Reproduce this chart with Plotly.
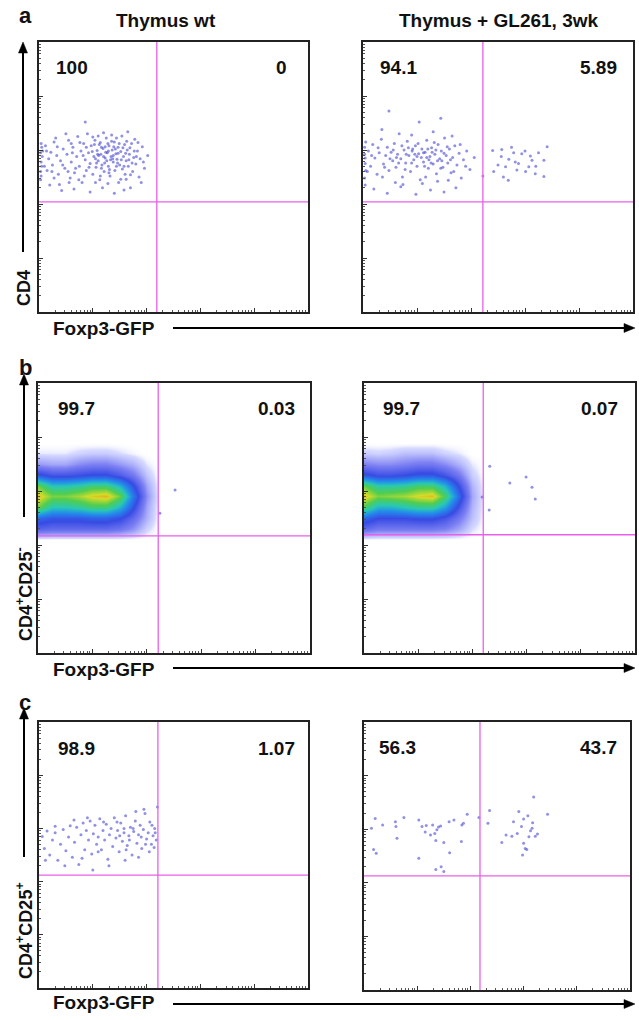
import math
import plotly.graph_objects as go

W, H = 639, 1020

# ---------------- text content ----------------
col_titles = ["Thymus wt", "Thymus + GL261, 3wk"]
row_letters = ["a", "b", "c"]
row_ylabels = ["CD4", "CD4<sup>+</sup>CD25<sup>-</sup>", "CD4<sup>+</sup>CD25<sup>+</sup>"]
x_label = "Foxp3-GFP"

# panel order: a_wt, a_gl, b_wt, b_gl, c_wt, c_gl
pct_upper_left = ["100", "94.1", "99.7", "99.7", "98.9", "56.3"]
pct_upper_right = ["0", "5.89", "0.03", "0.07", "1.07", "43.7"]

# quadrant gates (decades)
gate_x = [2.19, 2.22, 2.21, 2.20, 2.21, 2.18]
gate_y = [2.04, 2.04, 2.17, 2.19, 2.12, 2.13]

# ---------------- events (decade units: Foxp3-GFP, y-marker) ----------------
a_wt_cells = [
    (0.03, 2.95), (0.04, 2.78), (0.05, 3.05), (0.03, 2.60), (0.06, 2.88), (0.04, 3.12), (0.05, 2.70), (0.03, 2.45), (0.07, 2.98), (0.04, 2.52),
    (0.12, 3.08), (0.18, 2.84), (0.22, 2.96), (0.15, 2.62), (0.28, 3.15), (0.25, 2.72), (0.33, 2.90), (0.36, 2.55), (0.31, 3.22), (0.40, 2.80),
    (0.45, 3.02), (0.48, 2.66), (0.52, 2.92), (0.55, 3.18), (0.58, 2.48), (0.60, 2.78), (0.63, 3.05), (0.66, 2.58), (0.70, 2.88), (0.72, 3.25),
    (0.75, 2.70), (0.78, 2.98), (0.80, 2.40), (0.83, 3.12), (0.86, 2.82), (0.88, 2.62), (0.90, 3.30), (0.92, 2.95), (0.95, 2.75), (0.97, 3.08),
    (1.00, 2.55), (1.02, 2.88), (1.04, 3.18), (1.06, 2.68), (1.08, 2.99), (1.10, 2.80), (1.12, 3.10), (1.13, 2.45), (1.15, 2.92), (1.17, 2.72),
    (1.19, 3.03), (1.21, 2.60), (1.23, 2.85), (1.25, 3.22), (1.27, 2.95), (1.29, 2.70), (1.30, 3.08), (1.32, 2.52), (1.34, 2.88), (1.36, 3.00),
    (1.38, 2.78), (1.40, 3.15), (1.41, 2.62), (1.43, 2.93), (1.45, 2.83), (1.47, 3.05), (1.48, 2.40), (1.50, 2.72), (1.52, 2.97), (1.54, 3.26),
    (1.55, 2.65), (1.57, 2.88), (1.59, 3.10), (1.60, 2.55), (1.62, 2.80), (1.64, 3.00), (1.66, 2.70), (1.68, 2.92), (1.70, 2.30), (1.72, 3.12),
    (1.74, 2.60), (1.76, 2.86), (1.78, 3.20), (1.80, 2.74), (1.83, 2.98), (1.86, 2.50), (1.88, 2.84), (1.92, 3.06), (1.96, 2.66), (2.02, 2.90),
    (0.20, 2.35), (0.42, 2.25), (0.65, 2.28), (0.95, 2.22), (1.18, 2.30), (1.40, 2.20), (1.58, 2.26), (1.20, 3.32), (0.50, 3.30), (1.65, 3.34),
    (0.86, 3.52), (1.05, 2.40), (1.28, 2.38), (0.74, 2.45), (1.52, 2.46), (1.10, 3.26), (1.35, 3.28), (0.60, 3.12), (0.28, 2.48), (1.90, 2.40),
    (1.11, 2.90), (1.24, 2.96), (1.33, 2.82), (1.42, 3.02), (1.05, 2.84), (1.28, 3.12), (1.46, 2.76), (1.16, 3.05), (1.38, 2.90), (1.22, 2.76),
    (0.82, 2.90), (0.88, 3.05), (0.93, 2.68), (0.99, 2.97), (1.03, 3.10), (1.07, 2.76), (1.09, 2.92), (1.14, 3.14), (1.16, 2.66), (1.20, 2.88),
    (1.23, 3.06), (1.26, 2.80), (1.29, 2.98), (1.31, 2.64), (1.35, 3.16), (1.37, 2.84), (1.39, 3.06), (1.44, 2.70), (1.47, 2.94), (1.49, 3.12),
    (1.53, 2.82), (1.56, 3.04), (1.58, 2.70), (1.61, 2.94), (1.63, 3.16), (1.67, 2.82), (1.69, 3.04), (1.73, 2.76), (1.77, 2.98), (1.81, 2.88),
    (0.10, 2.70), (0.14, 2.98), (0.24, 2.60), (0.34, 3.06), (0.44, 2.72), (0.54, 2.60), (0.62, 2.95), (0.68, 2.66), (0.76, 3.14), (0.84, 2.52),
    (1.00, 3.24), (1.14, 2.52), (1.30, 2.58), (1.44, 3.22), (1.62, 2.46), (1.84, 3.14), (1.94, 2.78), (1.70, 2.54), (0.56, 2.40), (0.38, 2.36),
]

a_gl_cells = [
    (0.03, 2.92), (0.04, 2.75), (0.03, 3.05), (0.05, 2.62), (0.04, 2.85), (0.03, 2.48), (0.05, 3.15), (0.04, 2.35),
    (0.10, 2.98), (0.14, 2.70), (0.18, 3.10), (0.22, 2.85), (0.26, 2.55), (0.30, 2.95), (0.34, 3.20), (0.38, 2.74),
    (0.42, 2.90), (0.45, 3.05), (0.48, 2.62), (0.52, 2.96), (0.55, 2.80), (0.58, 3.12), (0.61, 2.68), (0.64, 2.92),
    (0.67, 3.30), (0.70, 2.84), (0.73, 2.50), (0.76, 3.00), (0.79, 2.76), (0.82, 3.16), (0.85, 2.90), (0.88, 2.60),
    (0.91, 2.98), (0.94, 2.82), (0.97, 3.08), (1.00, 2.70), (1.03, 2.93), (1.06, 2.45), (1.09, 3.02), (1.12, 2.78),
    (1.15, 2.96), (1.18, 3.18), (1.21, 2.66), (1.24, 2.88), (1.27, 3.04), (1.30, 2.74), (1.33, 2.92), (1.36, 2.56),
    (1.39, 3.10), (1.42, 2.84), (1.45, 2.98), (1.48, 2.68), (1.51, 3.22), (1.54, 2.90), (1.57, 2.76), (1.60, 3.02),
    (1.63, 2.58), (1.66, 2.86), (1.70, 3.08), (1.74, 2.72), (1.78, 2.94), (1.82, 2.48), (1.86, 2.82), (1.92, 2.98),
    (1.98, 2.64), (2.06, 2.86), (0.20, 2.28), (0.45, 2.20), (0.70, 2.32), (0.98, 2.18), (1.25, 2.26), (1.50, 2.22),
    (1.72, 2.30), (0.60, 2.40), (1.10, 2.38), (1.38, 2.42), (0.48, 3.72), (1.44, 3.59), (1.04, 3.52), (0.90, 3.28),
    (1.30, 3.34), (0.35, 3.38), (1.65, 3.26), (1.00, 2.88), (1.12, 2.95), (1.22, 2.82), (1.35, 3.00), (0.80, 2.92),
    (0.62, 2.86), (1.46, 2.80), (0.92, 3.02), (1.28, 2.96), (1.18, 2.86),
    (0.40, 2.68), (0.50, 2.84), (0.56, 3.00), (0.66, 2.76), (0.72, 3.08), (0.78, 2.64), (0.84, 3.04), (0.90, 2.76),
    (0.96, 2.92), (1.02, 3.12), (1.08, 2.86), (1.14, 2.70), (1.20, 3.02), (1.26, 2.76), (1.32, 3.14), (1.38, 2.80),
    (1.44, 2.66), (1.50, 2.94), (1.56, 3.06), (1.62, 2.82), (0.08, 2.60), (0.16, 2.90), (0.28, 3.04), (0.36, 2.50),
    (1.68, 2.60), (1.80, 3.10), (1.90, 2.70), (0.74, 2.36), (1.16, 2.50), (1.58, 2.44),
    # Foxp3+ cluster
    (2.40, 2.99), (2.57, 3.01), (2.56, 2.88), (2.79, 2.95), (2.94, 2.93), (3.10, 2.89), (3.25, 2.95), (3.41, 3.06),
    (2.70, 2.83), (2.88, 2.75), (3.07, 2.69), (2.64, 2.69), (2.85, 2.63), (3.01, 2.60), (3.19, 2.56), (3.35, 2.51),
    (2.69, 2.44), (2.42, 2.60), (3.13, 2.81), (3.35, 2.81), (2.82, 2.78), (2.50, 2.72), (2.75, 3.05), (3.00, 2.98),
    (2.60, 2.50), (3.20, 2.70), (2.22, 2.52),
]

c_wt_cells = [
    (0.06, 2.85), (0.10, 2.62), (0.15, 2.95), (0.20, 2.50), (0.25, 2.78), (0.30, 2.92), (0.35, 2.40), (0.40, 2.70),
    (0.45, 2.98), (0.50, 2.58), (0.55, 2.84), (0.58, 3.05), (0.62, 2.46), (0.66, 2.74), (0.70, 3.02), (0.74, 2.32),
    (0.78, 2.88), (0.82, 3.10), (0.85, 2.60), (0.88, 2.96), (0.92, 2.78), (0.95, 3.14), (0.98, 2.52), (1.01, 2.90),
    (1.04, 3.06), (1.07, 2.70), (1.10, 2.84), (1.13, 3.18), (1.16, 2.60), (1.19, 2.96), (1.22, 2.78), (1.25, 3.08),
    (1.28, 2.42), (1.31, 2.88), (1.34, 3.00), (1.37, 2.66), (1.40, 3.20), (1.43, 2.82), (1.46, 2.96), (1.49, 2.56),
    (1.52, 3.10), (1.55, 2.76), (1.58, 2.92), (1.61, 3.24), (1.64, 2.68), (1.67, 2.86), (1.70, 3.02), (1.73, 2.50),
    (1.76, 2.94), (1.79, 3.14), (1.82, 2.72), (1.85, 2.88), (1.88, 3.06), (1.91, 2.62), (1.94, 2.98), (1.97, 3.28),
    (2.00, 2.80), (2.03, 2.92), (2.06, 3.12), (2.09, 2.70), (2.12, 2.86), (2.15, 3.00), (2.18, 2.78), (2.20, 3.40),
    (1.95, 3.36), (1.80, 3.32), (1.60, 2.40), (1.30, 2.30), (1.00, 2.22), (1.85, 2.46), (2.05, 2.56), (1.50, 2.86),
    (1.68, 2.78), (1.90, 2.84), (2.10, 3.06), (1.75, 3.00), (1.58, 3.00), (1.98, 2.70), (2.14, 2.64), (1.45, 3.12),
    (1.20, 3.12), (0.90, 3.20), (0.65, 3.16), (0.30, 3.04), (0.12, 2.40), (1.10, 2.56), (1.62, 2.60), (2.16, 2.92),
    (0.48, 2.30), (0.80, 2.44),
]

c_gl_cells = [
    (0.14, 3.02), (0.21, 3.20), (0.35, 3.08), (0.59, 3.14), (0.60, 3.05), (0.75, 3.22), (0.18, 2.62), (0.23, 2.55),
    (0.62, 2.83), (1.03, 3.17), (1.09, 3.05), (1.17, 3.07), (1.29, 3.08), (1.40, 3.04), (1.44, 3.06), (1.15, 2.95),
    (1.25, 2.89), (1.33, 2.92), (1.37, 2.99), (1.35, 2.79), (1.50, 2.75), (1.60, 3.14), (1.69, 3.17), (1.84, 3.08),
    (1.87, 3.11), (1.83, 2.77), (1.94, 3.28), (1.61, 2.56), (1.03, 2.46), (1.35, 2.25), (1.45, 2.30), (1.50, 2.21),
    (2.16, 3.22), (2.36, 3.35), (2.33, 3.11),
    (2.59, 2.75), (2.67, 2.89), (2.78, 2.87), (2.88, 2.92), (2.91, 3.33), (3.08, 3.25), (3.00, 3.19), (3.17, 3.12),
    (3.13, 2.97), (3.10, 2.86), (3.22, 2.87), (3.00, 2.74), (3.03, 2.64), (3.06, 2.62), (2.98, 2.52), (3.19, 3.60),
    (3.45, 3.28), (2.96, 3.05), (2.81, 3.14), (3.16, 3.02), (3.26, 2.91),
]

# dense panels (b): event density on a coarse grid (relative, 0-10)
b_x_centers = [0.0, 0.25, 0.5, 0.75, 1.0, 1.25, 1.5, 1.75, 2.0, 2.25]
b_y_centers = [2.1, 2.3, 2.5, 2.7, 2.9, 3.1, 3.3, 3.5, 3.7, 3.9]
b_wt_density = [
    [0, 0, 0, 0, 0, 0, 0, 0, 0, 0],
    [2.6, 2.4, 2.4, 2.4, 2.4, 2.4, 2.1, 1.5, 0.5, 0],
    [4.0, 3.6, 3.6, 3.6, 3.8, 3.8, 3.4, 2.4, 1.0, 0],
    [7.5, 6.0, 6.0, 6.3, 6.8, 6.8, 5.6, 3.5, 1.2, 0],
    [8.8, 7.6, 7.6, 8.0, 8.6, 8.9, 7.4, 4.4, 1.5, 0],
    [7.5, 6.0, 6.0, 6.3, 6.8, 6.8, 5.6, 3.5, 1.2, 0],
    [3.6, 3.0, 3.0, 3.2, 3.4, 3.4, 2.8, 2.0, 0.7, 0],
    [1.4, 1.2, 1.2, 1.6, 1.8, 1.8, 1.4, 1.0, 0.3, 0],
    [0.3, 0.3, 0.3, 0.5, 0.6, 0.6, 0.4, 0.2, 0, 0],
    [0, 0, 0, 0, 0, 0, 0, 0, 0, 0],
]
b_gl_density = [
    [0, 0, 0, 0, 0, 0, 0, 0, 0, 0],
    [2.4, 2.0, 2.0, 2.0, 2.0, 2.0, 1.8, 1.2, 0.4, 0],
    [4.0, 3.3, 3.3, 3.3, 3.5, 3.5, 3.0, 2.0, 0.8, 0],
    [7.0, 5.6, 5.6, 6.0, 6.4, 6.4, 5.2, 3.0, 1.0, 0],
    [8.8, 7.6, 7.8, 8.0, 8.5, 8.8, 7.0, 4.0, 1.2, 0],
    [7.4, 6.2, 6.2, 6.4, 6.9, 6.9, 5.6, 3.2, 1.0, 0],
    [3.6, 3.1, 3.1, 3.3, 3.6, 3.6, 3.0, 2.0, 0.6, 0],
    [1.8, 1.6, 1.6, 1.8, 2.0, 2.0, 1.6, 1.0, 0.3, 0],
    [0.6, 0.5, 0.6, 0.8, 0.8, 0.8, 0.5, 0.3, 0, 0],
    [0, 0, 0, 0, 0, 0, 0, 0, 0, 0],
]
b_wt_outliers = [(2.52, 3.02), (2.24, 2.59)]
b_gl_outliers = [(2.32, 3.46), (2.69, 3.15), (2.99, 3.26), (3.10, 3.07), (3.16, 2.85), (2.18, 2.89), (2.31, 2.65)]

# ---------------- layout geometry (pixels: left, top, right, bottom) ----------------
boxes = [(39, 42, 308, 312), (363, 42, 633, 312),
         (38, 383, 310, 653), (364, 383, 635, 653),
         (39, 722, 308, 988), (364, 722, 630, 990)]
pct_y = [68, 68, 408, 408, 748, 747]
pct_left_x = [54, 378, 56, 381, 56, 377]
pct_right_x = [289, 619, 297, 620, 297, 619]

FONT = "Liberation Sans, Arial, sans-serif"
DOT = "rgba(55,55,205,0.55)"
MAGENTA = "#ea5fea"


def px(x):
    return x / W


def py(y):
    return 1 - y / H


fig = go.Figure()

scatter_sets = {0: a_wt_cells, 1: a_gl_cells, 4: c_wt_cells, 5: c_gl_cells,
                2: b_wt_outliers, 3: b_gl_outliers}
density_sets = {2: b_wt_density, 3: b_gl_density}

flow_scale = [
    [0.0, "rgba(255,255,255,0)"],
    [0.04, "rgb(215,218,255)"],
    [0.18, "rgb(125,128,242)"],
    [0.33, "rgb(55,75,228)"],
    [0.48, "rgb(35,140,235)"],
    [0.60, "rgb(40,200,180)"],
    [0.72, "rgb(80,205,80)"],
    [0.84, "rgb(210,220,40)"],
    [0.93, "rgb(240,150,30)"],
    [1.0, "rgb(215,50,30)"],
]

for i in range(6):
    n = "" if i == 0 else str(i + 1)
    xa, ya = "x" + n, "y" + n
    if i in density_sets:
        fig.add_trace(go.Heatmap(
            x=b_x_centers, y=b_y_centers, z=density_sets[i],
            zmin=0, zmax=10, zsmooth="best", colorscale=flow_scale,
            showscale=False, hoverinfo="skip", xaxis=xa, yaxis=ya))
    pts = scatter_sets[i]
    fig.add_trace(go.Scatter(
        x=[p[0] for p in pts], y=[p[1] for p in pts], mode="markers",
        marker=dict(size=3, color=DOT, line=dict(width=0)),
        hoverinfo="skip", showlegend=False, xaxis=xa, yaxis=ya))

major = [0, 1, 2, 3, 4, 5]
minor = [k + math.log10(m) for k in range(5) for m in range(2, 10)]

layout = dict(width=W, height=H, margin=dict(l=0, r=0, t=0, b=0),
              paper_bgcolor="white", plot_bgcolor="white", showlegend=False)
shapes = []
annotations = []

for i, (l, t, r, b) in enumerate(boxes):
    n = "" if i == 0 else str(i + 1)
    common = dict(range=[0, 5], showline=True, mirror=True, linecolor="#222",
                  linewidth=1.5, showgrid=False, zeroline=False,
                  showticklabels=False, tickvals=major, ticklen=4,
                  tickcolor="#333", tickwidth=1,
                  minor=dict(tickvals=minor, ticks="inside", ticklen=2,
                             tickcolor="#555"))
    layout["xaxis" + n] = dict(domain=[px(l), px(r)], anchor="y" + n,
                               ticks="inside", **common)
    layout["yaxis" + n] = dict(domain=[py(b), py(t)], anchor="x" + n,
                               ticks="inside", **common)
    xr, yr = "x" + n, "y" + n
    shapes.append(dict(type="line", xref=xr, yref=yr, x0=gate_x[i], x1=gate_x[i],
                       y0=0, y1=5, line=dict(color=MAGENTA, width=1.3), layer="above"))
    shapes.append(dict(type="line", xref=xr, yref=yr, x0=0, x1=5,
                       y0=gate_y[i], y1=gate_y[i], line=dict(color=MAGENTA, width=1.3),
                       layer="above"))
    annotations.append(dict(x=px(pct_left_x[i]), y=py(pct_y[i]), xref="paper", yref="paper",
                            text="<b>%s</b>" % pct_upper_left[i], showarrow=False, xanchor="left",
                            yanchor="middle", font=dict(family=FONT, size=19, color="#111")))
    annotations.append(dict(x=px(pct_right_x[i]), y=py(pct_y[i]), xref="paper", yref="paper",
                            text="<b>%s</b>" % pct_upper_right[i], showarrow=False, xanchor="right",
                            yanchor="middle", font=dict(family=FONT, size=19, color="#111")))

# column titles
for txt, cx in zip(col_titles, [166, 499]):
    annotations.append(dict(x=px(cx), y=py(20), xref="paper", yref="paper", text="<b>%s</b>" % txt,
                            showarrow=False, xanchor="center", yanchor="middle",
                            font=dict(family=FONT, size=19, color="#111")))


def arrow_shapes(tail, head):
    """Axis-direction arrow drawn in paper pixels: a line plus a filled head."""
    (tx, ty), (hx, hy) = tail, head
    dx, dy = hx - tx, hy - ty
    L = math.hypot(dx, dy)
    ux, uy = dx / L, dy / L
    hl, hw = 11, 4.5
    bx, by = hx - ux * hl, hy - uy * hl
    nx, ny = -uy, ux
    line = dict(type="line", xref="paper", yref="paper",
                x0=px(tx), y0=py(ty), x1=px(bx + ux * 2), y1=py(by + uy * 2),
                line=dict(color="black", width=2))
    path = "M %f %f L %f %f L %f %f Z" % (
        px(hx), py(hy), px(bx + nx * hw), py(by + ny * hw), px(bx - nx * hw), py(by - ny * hw))
    head_shape = dict(type="path", xref="paper", yref="paper", path=path,
                      fillcolor="black", line=dict(color="black", width=0.5))
    return [line, head_shape]


# row letters, y labels, arrows, x labels
letter_y = [16, 367, 702]
ylab_y = [288, 594, 931]
varrow = [(23, 42, 252), (24, 374, 517), (24, 708, 857)]
xlab_y = [329, 669, 1002]
harrow_y = [328, 668, 1004]
for r in range(3):
    annotations.append(dict(x=px(25), y=py(letter_y[r]), xref="paper", yref="paper",
                            text="<b>%s</b>" % row_letters[r], showarrow=False,
                            xanchor="center", yanchor="middle",
                            font=dict(family=FONT, size=22, color="#111")))
    annotations.append(dict(x=px(24), y=py(ylab_y[r]), xref="paper", yref="paper",
                            text="<b>%s</b>" % row_ylabels[r], showarrow=False, textangle=-90,
                            xanchor="center", yanchor="middle",
                            font=dict(family=FONT, size=18, color="#111")))
    annotations.append(dict(x=px(104), y=py(xlab_y[r]), xref="paper", yref="paper",
                            text="<b>%s</b>" % x_label, showarrow=False,
                            xanchor="center", yanchor="middle",
                            font=dict(family=FONT, size=19, color="#111")))
    vx, vtop, vbot = varrow[r]
    shapes += arrow_shapes((vx, vbot), (vx, vtop))
    shapes += arrow_shapes((173, harrow_y[r]), (635, harrow_y[r]))

layout["shapes"] = shapes
layout["annotations"] = annotations
fig.update_layout(**layout)

fig.write_html("out.html", config={"displayModeBar": False},
               post_script="document.body.style.margin='0';document.body.style.overflow='hidden';")
